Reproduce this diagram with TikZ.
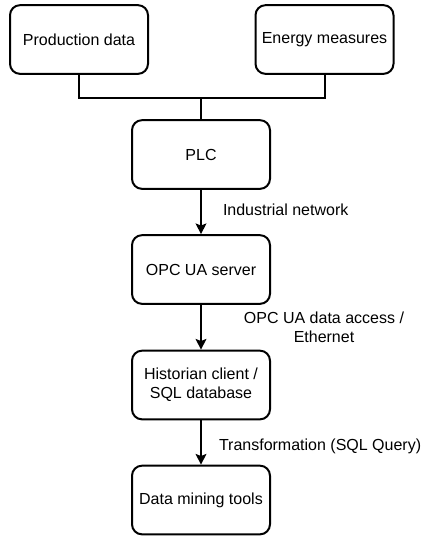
\documentclass[tikz,border=0pt]{standalone}
\usepackage{fontspec}
\setmainfont{Liberation Sans}
\usetikzlibrary{arrows.meta}

\begin{document}
\begin{tikzpicture}[x=0.75pt, y=-0.75pt,
		box/.style = {draw, rounded corners=7.5pt, line width=1.5pt, align=center,
			text=black, fill=white, minimum width=103.5pt, minimum height=51.5pt, inner sep=0pt},
		lbl/.style = {align=center, inner sep=0pt},
		link/.style = {line width=1.5pt},
		flow/.style = {line width=1.5pt, -{Stealth[length=8pt, width=8pt, inset=1.5pt]}},
		every node/.style = {font=\fontsize{12}{14}\selectfont}]

	\useasboundingbox (0,0) rectangle (422,536);

	\node[box] (prod) at (79,39.5) {Production data};
	\node[box] (energy) at (324.5,39.5) {Energy measures};
	\node[box] (plc) at (201,154.5) {PLC};
	\node[box] (opc) at (201,269.5) {OPC UA server};
	\node[box] (hist) at (201,385) {Historian client /\\SQL database};
	\node[box] (mining) at (201,500) {Data mining tools};

	\coordinate (join) at (201,98);

	\draw[link] (prod.south) |- (join) -| (energy.south);
	\draw[link] (join) -- (plc.north);

	\draw[flow] (plc) -- (opc)
		node[lbl, anchor=west] (netlbl) at (222,210) {Industrial network};
	\draw[flow] (opc) -- (hist)
		node[lbl] (ethlbl) at (324,327) {OPC UA data access /\\Ethernet};
	\draw[flow] (hist) -- (mining)
		node[lbl, anchor=west] (sqllbl) at (218,446) {Transformation (SQL Query)};
\end{tikzpicture}
\end{document}
